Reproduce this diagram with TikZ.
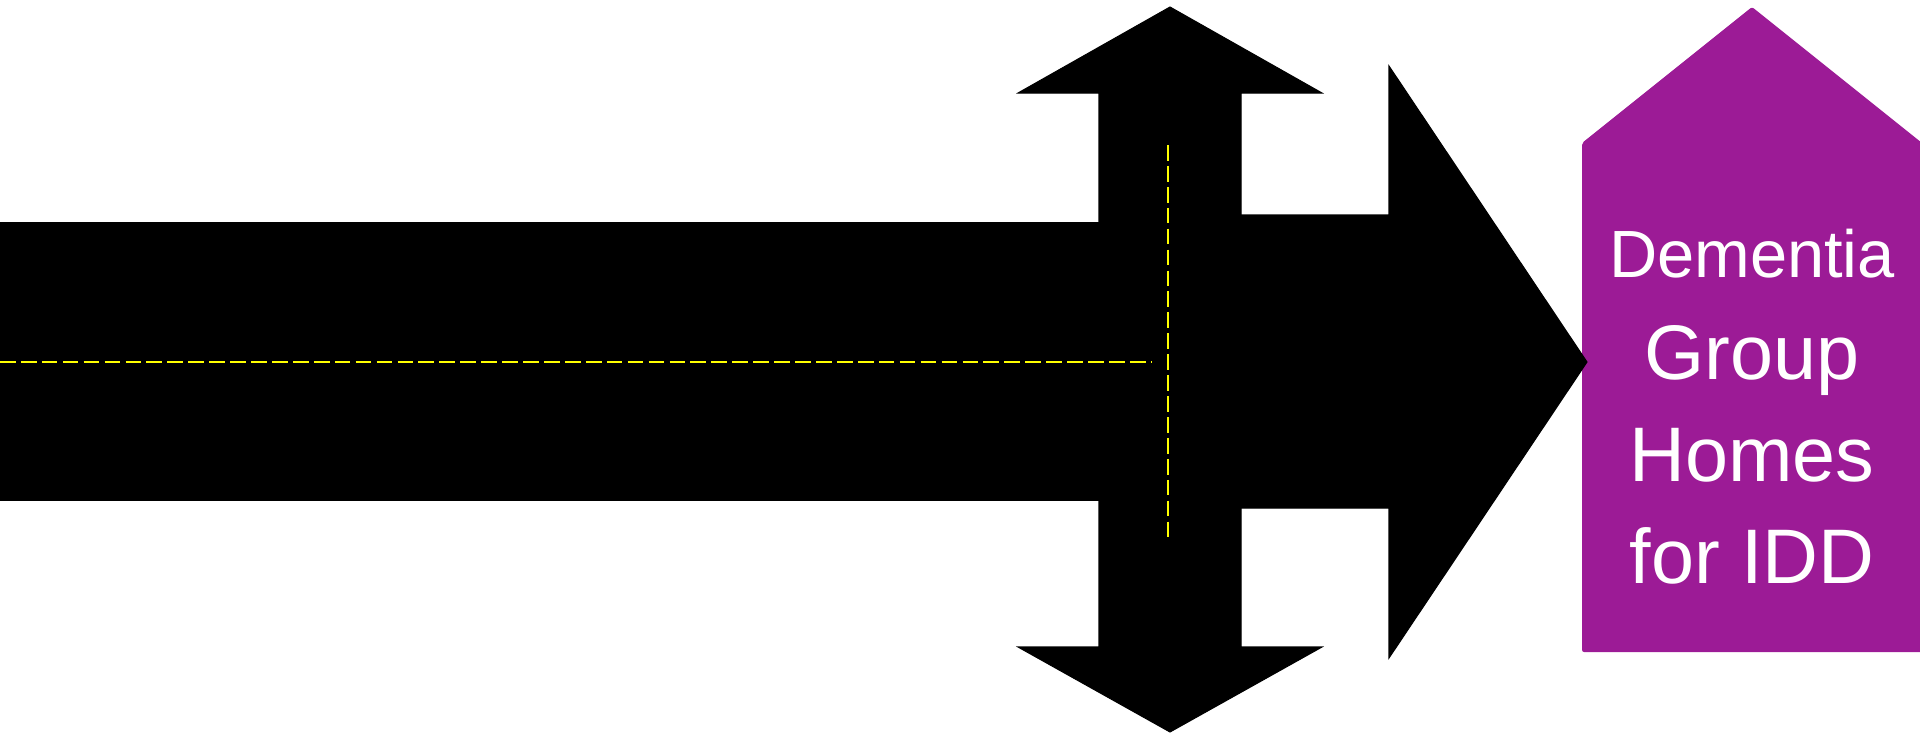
\documentclass[tikz,border=0pt]{standalone}
\usepackage{fontspec}
\setmainfont{Liberation Sans}
\usepackage{tikz}
\usetikzlibrary{positioning}
\definecolor{housepurple}{HTML}{9C1B96}
\definecolor{laneyellow}{HTML}{FFFF00}
\tikzset{
  roadblk/.style={fill=black,draw=black,line width=0.3pt,line join=miter},
  laneline/.style={laneyellow,line width=0.55pt,dash pattern=on 4.45pt off 1.5pt},
  housebox/.style={fill=housepurple,draw=none,rounded corners=0.6pt},
  houselbl/.style={white,align=center,font=\fontsize{22}{29}\selectfont,inner sep=0pt},
}
\begin{document}
\begin{tikzpicture}[x=0.01cm,y=-0.01cm]
  \useasboundingbox (0,0) rectangle (1920,736);
  % house on the right
  \fill[housebox] (1582,143) -- (1752,7) -- (1922,143) -- (1922,652) -- (1582,652) -- cycle;
  \node[houselbl,anchor=base] (lblHome) at (1752,583)
    {{\fontsize{19}{29}\selectfont Dementia}\\Group\\Homes\\for IDD};
  % road
  \fill[roadblk] (0,223) rectangle (1100,500);
  \fill[roadblk] (1170,7) -- (1322,93) -- (1241,93) -- (1241,647) -- (1322,647)
    -- (1170,732) -- (1018,647) -- (1099,647) -- (1099,93) -- (1018,93) -- cycle;
  \fill[roadblk] (1200,215) -- (1389,215) -- (1389,66) -- (1587,362)
    -- (1389,658) -- (1389,508) -- (1200,508) -- cycle;
  % lane marks
  \coordinate (hA) at (0,362);
  \coordinate (hB) at (1152,362);
  \coordinate (vA) at (1168,145);
  \coordinate (vB) at (1168,541);
  \draw[laneline] (hA) -- (hB);
  \draw[laneline] (vA) -- (vB);
\end{tikzpicture}
\end{document}
